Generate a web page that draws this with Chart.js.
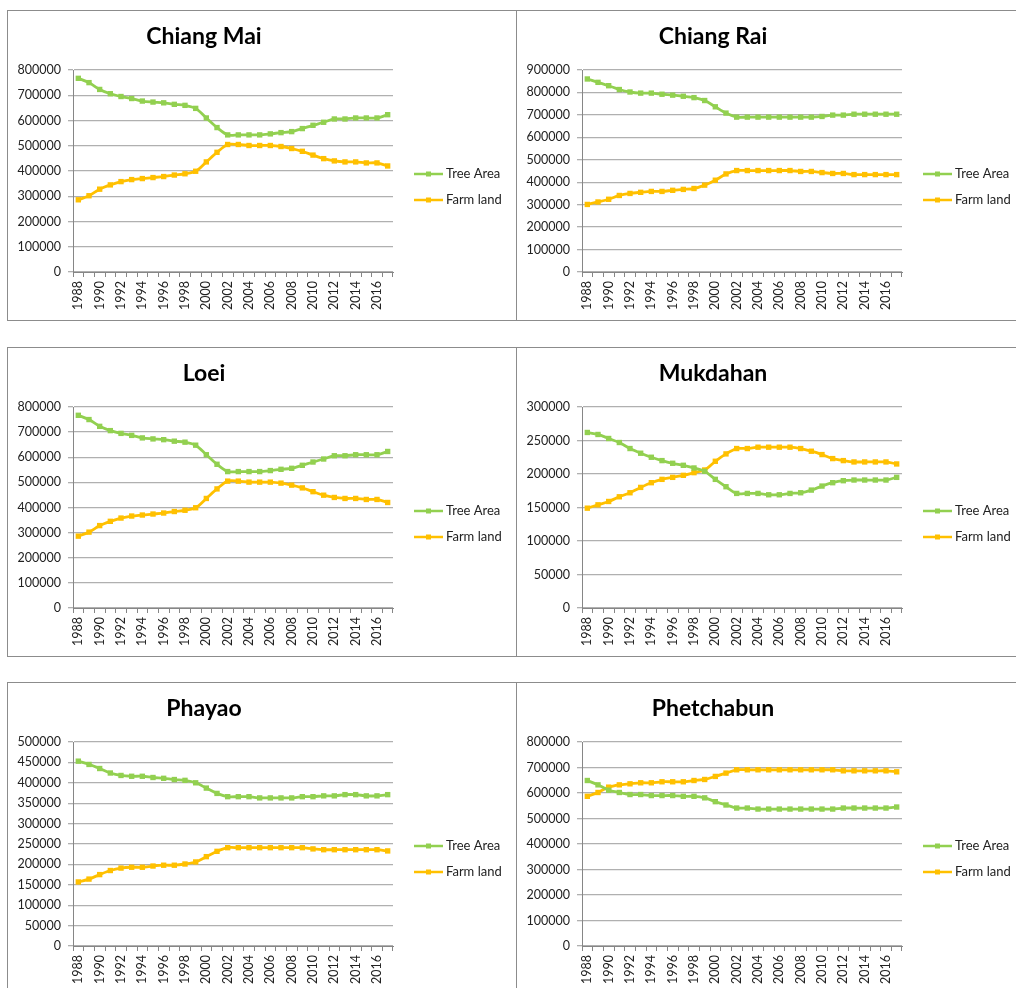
<!DOCTYPE html>
<html>
<head>
<meta charset="utf-8">
<title>Tree Area and Farmland by Province</title>
<script src="https://cdn.jsdelivr.net/npm/chart.js@4.4.1/dist/chart.umd.min.js"></script>
<style>
  body { margin: 0; background: #fff; width: 1016px; height: 988px; overflow: hidden; position: relative; }
  .panel { position: absolute; border: 1px solid #8c8c8c; background: #fff; box-sizing: border-box; }
  canvas { display: block; }
</style>
</head>
<body>
<div class="panel" style="left:7px;top:10px;width:510px;height:311px"><canvas id="c0" width="508" height="309"></canvas></div>
<div class="panel" style="left:516px;top:10px;width:510px;height:311px"><canvas id="c1" width="508" height="309"></canvas></div>
<div class="panel" style="left:7px;top:347px;width:510px;height:310px"><canvas id="c2" width="508" height="308"></canvas></div>
<div class="panel" style="left:516px;top:347px;width:510px;height:310px"><canvas id="c3" width="508" height="308"></canvas></div>
<div class="panel" style="left:7px;top:682px;width:510px;height:320px"><canvas id="c4" width="508" height="311"></canvas></div>
<div class="panel" style="left:516px;top:682px;width:510px;height:320px"><canvas id="c5" width="508" height="311"></canvas></div>

<script>
// Years on the x axis
const years = [1988, 1989, 1990, 1991, 1992, 1993, 1994, 1995, 1996, 1997,
               1998, 1999, 2000, 2001, 2002, 2003, 2004, 2005, 2006, 2007,
               2008, 2009, 2010, 2011, 2012, 2013, 2014, 2015, 2016, 2017];

const seriesNames = ['Tree Area', 'Farm land'];

// Chiang Mai
const chiangMaiTree = [767000, 750000, 723000, 706000, 695000, 687000, 677000, 673000, 670000, 664000,
                       660000, 648000, 610000, 572000, 543000, 543000, 543000, 543000, 547000, 552000,
                       556000, 568000, 581000, 593000, 606000, 606000, 610000, 610000, 610000, 623000];
const chiangMaiFarm = [286000, 302000, 328000, 345000, 358000, 366000, 370000, 374000, 378000, 384000,
                       389000, 399000, 436000, 474000, 505000, 505000, 501000, 501000, 501000, 497000,
                       489000, 478000, 463000, 449000, 440000, 436000, 436000, 432000, 432000, 420000];

// Chiang Rai
const chiangRaiTree = [860000, 845000, 830000, 813000, 802000, 797000, 797000, 792000, 788000, 783000,
                       777000, 764000, 736000, 708000, 690000, 690000, 690000, 690000, 690000, 690000,
                       690000, 690000, 693000, 699000, 699000, 703000, 703000, 703000, 703000, 703000];
const chiangRaiFarm = [301000, 312000, 324000, 341000, 350000, 355000, 359000, 359000, 364000, 368000,
                       372000, 387000, 409000, 437000, 452000, 452000, 452000, 452000, 452000, 452000,
                       448000, 448000, 443000, 439000, 439000, 434000, 434000, 434000, 434000, 434000];

// Loei
const loeiTree = [767000, 750000, 723000, 706000, 695000, 687000, 677000, 673000, 670000, 664000,
                  660000, 648000, 610000, 572000, 543000, 543000, 543000, 543000, 547000, 552000,
                  556000, 568000, 581000, 593000, 606000, 606000, 610000, 610000, 610000, 623000];
const loeiFarm = [286000, 302000, 328000, 345000, 358000, 366000, 370000, 374000, 378000, 384000,
                  389000, 399000, 436000, 474000, 505000, 505000, 501000, 501000, 501000, 497000,
                  489000, 478000, 463000, 449000, 440000, 436000, 436000, 432000, 432000, 420000];

// Mukdahan
const mukdahanTree = [262000, 259000, 253000, 247000, 238000, 231000, 225000, 220000, 216000, 213000,
                      209000, 204000, 192000, 181000, 171000, 171000, 171000, 169000, 169000, 171000,
                      172000, 176000, 182000, 187000, 190000, 191000, 191000, 191000, 191000, 195000];
const mukdahanFarm = [149000, 154000, 159000, 166000, 172000, 180000, 187000, 192000, 195000, 198000,
                      202000, 206000, 219000, 230000, 238000, 238000, 240000, 240000, 240000, 240000,
                      238000, 234000, 229000, 223000, 220000, 218000, 218000, 218000, 218000, 215000];

// Phayao
const phayaoTree = [453000, 445000, 435000, 424000, 418000, 416000, 416000, 413000, 411000, 408000,
                    406000, 400000, 387000, 374000, 366000, 366000, 366000, 363000, 363000, 363000,
                    363000, 366000, 366000, 368000, 368000, 371000, 371000, 368000, 368000, 371000];
const phayaoFarm = [157000, 164000, 175000, 185000, 191000, 193000, 193000, 196000, 198000, 198000,
                    201000, 206000, 219000, 232000, 241000, 241000, 241000, 241000, 241000, 241000,
                    241000, 241000, 238000, 236000, 236000, 236000, 236000, 236000, 236000, 233000];

// Phetchabun
const phetchabunTree = [649000, 632000, 611000, 602000, 594000, 594000, 590000, 590000, 590000, 587000,
                        587000, 581000, 566000, 553000, 541000, 541000, 537000, 537000, 537000, 537000,
                        537000, 537000, 537000, 537000, 541000, 541000, 541000, 541000, 541000, 545000];
const phetchabunFarm = [587000, 602000, 623000, 632000, 636000, 640000, 640000, 644000, 644000, 644000,
                        649000, 653000, 665000, 678000, 691000, 691000, 691000, 691000, 691000, 691000,
                        691000, 691000, 691000, 691000, 687000, 687000, 687000, 687000, 687000, 683000];

const provinces = ['Chiang Mai', 'Chiang Rai', 'Loei', 'Mukdahan', 'Phayao', 'Phetchabun'];
const treeSeries = [chiangMaiTree, chiangRaiTree, loeiTree, mukdahanTree, phayaoTree, phetchabunTree];
const farmSeries = [chiangMaiFarm, chiangRaiFarm, loeiFarm, mukdahanFarm, phayaoFarm, phetchabunFarm];
const yMax = [800000, 900000, 800000, 300000, 500000, 800000];
const yStep = [100000, 100000, 100000, 50000, 50000, 100000];

const treeColor = '#92d050';
const farmColor = '#ffc000';
const gridColor = '#b0b0b0';
const axisColor = '#868686';
const fontFamily = 'Lato, "Open Sans", sans-serif';

// Legend drawn to the right of the plot, Excel style (line with marker)
const sideLegend = {
    id: 'sideLegend',
    afterDraw(chart) {
        const ctx = chart.ctx;
        const x = chart.chartArea.right + 21;
        ctx.save();
        chart.data.datasets.forEach((ds, i) => {
            const y = chart.chartArea.top + 104 + i * 26;
            ctx.strokeStyle = ds.borderColor;
            ctx.lineWidth = 2.5;
            ctx.beginPath();
            ctx.moveTo(x, y);
            ctx.lineTo(x + 29, y);
            ctx.stroke();
            ctx.fillStyle = ds.borderColor;
            ctx.fillRect(x + 12, y - 2.5, 5, 5);
            ctx.fillStyle = '#222';
            ctx.font = '13px ' + fontFamily;
            ctx.textAlign = 'left';
            ctx.textBaseline = 'middle';
            ctx.fillText(ds.label, x + 32, y);
        });
        ctx.restore();
    }
};

function makeChart(i) {
    const dataset = (label, values, color) => ({
        label: label,
        data: values,
        borderColor: color,
        backgroundColor: color,
        borderWidth: 2.8,
        tension: 0.3,
        pointStyle: 'rect',
        pointRadius: 3.8,
        pointBorderWidth: 0,
        pointBackgroundColor: color
    });

    new Chart(document.getElementById('c' + i).getContext('2d'), {
        type: 'line',
        data: {
            labels: years,
            datasets: [
                dataset(seriesNames[0], treeSeries[i], treeColor),
                dataset(seriesNames[1], farmSeries[i], farmColor)
            ]
        },
        options: {
            responsive: false,
            animation: false,
            layout: { padding: { left: 7, right: 123, top: 0, bottom: 0 } },
            plugins: {
                legend: { display: false },
                tooltip: { enabled: false },
                title: {
                    display: true,
                    text: provinces[i],
                    color: '#000',
                    font: { family: fontFamily, size: 23, weight: 'bold', lineHeight: 1.2 },
                    padding: { top: 12.2, bottom: 19.2 }
                }
            },
            scales: {
                x: {
                    offset: true,
                    afterFit: s => { s.height = 48; },
                    border: { display: true, color: axisColor, width: 1 },
                    grid: { offset: true, drawOnChartArea: false, drawTicks: true, tickLength: 5, color: axisColor },
                    ticks: {
                        autoSkip: false,
                        minRotation: 90,
                        maxRotation: 90,
                        padding: 4,
                        color: '#222',
                        font: { family: fontFamily, size: 12.5 },
                        callback: (v, idx) => idx % 2 === 0 ? years[idx] : ''
                    }
                },
                y: {
                    min: 0,
                    max: yMax[i],
                    afterFit: s => { s.width = 58; },
                    border: { display: true, color: axisColor, width: 1 },
                    grid: { color: gridColor, lineWidth: 1.3, tickLength: 5 },
                    ticks: {
                        stepSize: yStep[i],
                        padding: 7,
                        color: '#222',
                        font: { family: fontFamily, size: 12.5 },
                        callback: v => String(v)
                    }
                }
            }
        },
        plugins: [sideLegend]
    });
}

for (let i = 0; i < provinces.length; i++) {
    makeChart(i);
}
</script>
</body>
</html>
